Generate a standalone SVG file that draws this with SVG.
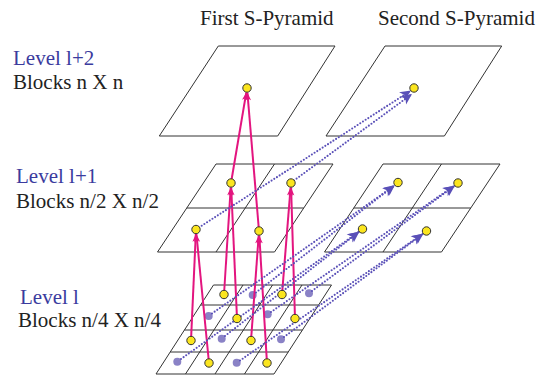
<svg xmlns="http://www.w3.org/2000/svg" width="552" height="379" viewBox="0 0 552 379">
<style>
.t{font-family:'Liberation Serif',Tinos,'Times New Roman','DejaVu Serif',serif;font-size:21px;fill:#222}
.lv{fill:#3b3b9e}
.pl{fill:none;stroke:#333;stroke-width:1}
.mg{stroke:#e3157f;stroke-width:2;fill:none;marker-end:url(#am)}
.dt{stroke:#5a50b8;stroke-width:2.1;fill:none;stroke-dasharray:0 3.2;stroke-linecap:round;marker-end:url(#ap)}
.y{fill:#fbe51e;stroke:#333;stroke-width:1}
.p{fill:#8a82c6}
</style>
<defs>
<marker id="am" viewBox="-1 -4 10 8" refX="8" refY="0" markerWidth="10" markerHeight="8" markerUnits="userSpaceOnUse" orient="auto">
<path d="M0,-3 L8,0 L0,3 L2,0 z" fill="#e3157f"/>
</marker>
<marker id="ap" viewBox="-1 -6 13 12" refX="11" refY="0" markerWidth="13" markerHeight="12" markerUnits="userSpaceOnUse" orient="auto">
<path d="M0,-5 L11,0 L0,5 L3,0 z" fill="#5a50b8"/>
</marker>
</defs>

<g id="titles">
<text class="t" x="200" y="25">First S-Pyramid</text>
<text class="t" x="378" y="25">Second S-Pyramid</text>
</g>
<g id="labels">
<text class="t lv" x="13" y="65">Level l+2</text>
<text class="t" x="13" y="89">Blocks n X n</text>
<text class="t lv" x="16" y="183">Level l+1</text>
<text class="t" x="16" y="208">Blocks n/2 X n/2</text>
<text class="t lv" x="20" y="304">Level l</text>
<text class="t" x="18" y="327">Blocks n/4 X n/4</text>
</g>

<g id="plane-first-top">
<polygon class="pl" points="218.3,46 335,46 277.7,136 159.3,136"/>
</g>
<g id="plane-second-top">
<polygon class="pl" points="385,46 501.7,46 444.4,136 326,136"/>
</g>
<g id="plane-first-mid">
<polygon class="pl" points="216,164 333,164 274.5,252 157.5,252"/>
<line class="pl" x1="186.75" y1="208" x2="303.75" y2="208"/>
<line class="pl" x1="274.5" y1="164" x2="216" y2="252"/>
</g>
<g id="plane-second-mid">
<polygon class="pl" points="383,164 500,164 441.5,252 324.5,252"/>
<line class="pl" x1="353.75" y1="208" x2="470.75" y2="208"/>
<line class="pl" x1="441.5" y1="164" x2="383" y2="252"/>
</g>
<g id="plane-first-bottom">
<polygon class="pl" points="213.5,285 331.5,285 274,374 156,374"/>
<line class="pl" x1="200.6" y1="305" x2="318.6" y2="305"/>
<line class="pl" x1="184.4" y1="330" x2="302.4" y2="330"/>
<line class="pl" x1="170.2" y1="352" x2="288.2" y2="352"/>
<line class="pl" x1="243" y1="285" x2="185.5" y2="374"/>
<line class="pl" x1="272.5" y1="285" x2="215" y2="374"/>
<line class="pl" x1="302" y1="285" x2="244.5" y2="374"/>
</g>

<g id="bottom-purple-dots">
<circle class="p" cx="252.7" cy="295" r="4"/>
<circle class="p" cx="309" cy="293.3" r="4"/>
<circle class="p" cx="208.7" cy="316" r="4"/>
<circle class="p" cx="267.7" cy="314.3" r="4"/>
<circle class="p" cx="221.7" cy="338.8" r="4"/>
<circle class="p" cx="281" cy="339.3" r="4"/>
<circle class="p" cx="177.3" cy="361.7" r="4"/>
<circle class="p" cx="236.7" cy="362.7" r="4"/>
</g>

<g id="connectors">
<line class="mg" x1="191" y1="340.5" x2="195.8" y2="234"/>
<line class="mg" x1="209" y1="363" x2="196.4" y2="234"/>
<line class="mg" x1="224" y1="294.5" x2="230.7" y2="187.5"/>
<line class="mg" x1="237" y1="318.5" x2="231.2" y2="187.5"/>
<line class="mg" x1="251" y1="340.5" x2="258.7" y2="235.5"/>
<line class="mg" x1="267" y1="363" x2="259.3" y2="235.5"/>
<line class="mg" x1="282" y1="294.5" x2="290.6" y2="187.5"/>
<line class="mg" x1="295" y1="318.5" x2="291.1" y2="187.5"/>
<line class="mg" x1="231" y1="183" x2="246.3" y2="92.4"/>
<line class="mg" x1="259" y1="231" x2="247.4" y2="92.5"/>

<line class="dt" x1="199" y1="227.5" x2="411" y2="90.5"/>
<line class="dt" x1="294" y1="180.5" x2="412" y2="94"/>
<line class="dt" x1="256" y1="292.5" x2="395" y2="185"/>
<line class="dt" x1="212" y1="313.5" x2="394" y2="186"/>
<line class="dt" x1="312" y1="291" x2="455" y2="185.5"/>
<line class="dt" x1="271" y1="312" x2="454" y2="186"/>
<line class="dt" x1="225" y1="336" x2="359.5" y2="231.5"/>
<line class="dt" x1="181" y1="359" x2="358.5" y2="232"/>
<line class="dt" x1="284" y1="337" x2="423.5" y2="233.5"/>
<line class="dt" x1="240" y1="360.5" x2="422.5" y2="234"/>
</g>

<g id="dot-top-1"><circle class="y" cx="247" cy="88" r="4.2"/></g>
<g id="dot-top-2"><circle class="y" cx="414" cy="88" r="4.2"/></g>
<g id="dot-mid-1a"><circle class="y" cx="231" cy="183" r="4.2"/></g>
<g id="dot-mid-1b"><circle class="y" cx="291" cy="183" r="4.2"/></g>
<g id="dot-mid-1c"><circle class="y" cx="196" cy="229.5" r="4.2"/></g>
<g id="dot-mid-1d"><circle class="y" cx="259" cy="231" r="4.2"/></g>
<g id="dot-mid-2a"><circle class="y" cx="398" cy="182.5" r="4.2"/></g>
<g id="dot-mid-2b"><circle class="y" cx="458" cy="183" r="4.2"/></g>
<g id="dot-mid-2c"><circle class="y" cx="362.5" cy="229" r="4.2"/></g>
<g id="dot-mid-2d"><circle class="y" cx="426.5" cy="231" r="4.2"/></g>
<g id="dot-bot-y1"><circle class="y" cx="224" cy="294.5" r="4.2"/></g>
<g id="dot-bot-y2"><circle class="y" cx="282" cy="294.5" r="4.2"/></g>
<g id="dot-bot-y3"><circle class="y" cx="237" cy="318.5" r="4.2"/></g>
<g id="dot-bot-y4"><circle class="y" cx="295" cy="318.5" r="4.2"/></g>
<g id="dot-bot-y5"><circle class="y" cx="191" cy="340.5" r="4.2"/></g>
<g id="dot-bot-y6"><circle class="y" cx="251" cy="340.5" r="4.2"/></g>
<g id="dot-bot-y7"><circle class="y" cx="209" cy="363" r="4.2"/></g>
<g id="dot-bot-y8"><circle class="y" cx="267" cy="363" r="4.2"/></g>
</svg>
